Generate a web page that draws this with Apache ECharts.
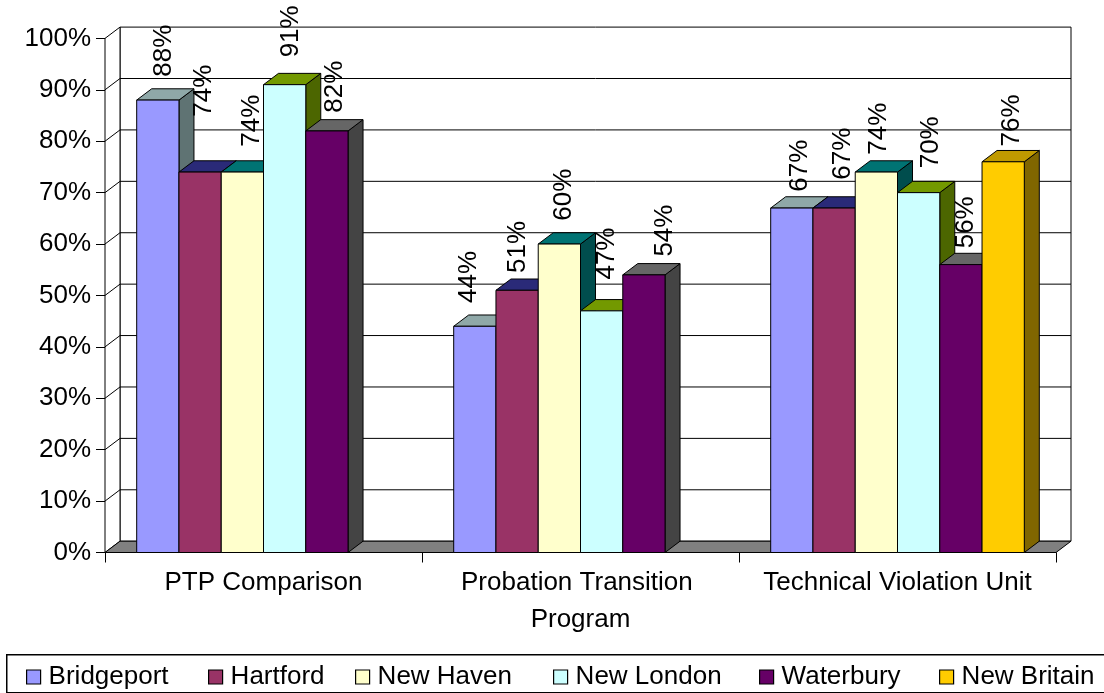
<!DOCTYPE html>
<html>
<head>
<meta charset="utf-8">
<title>Program comparison by office</title>
<script src="https://cdn.jsdelivr.net/npm/echarts@6/dist/echarts.min.js"></script>
<style>
  html, body { margin: 0; padding: 0; background: #fff; }
  #chart { width: 1104px; height: 693px; }
</style>
</head>
<body>
<div id="chart"></div>
<script>
// ---- data ----
const CATEGORIES = ['PTP Comparison', 'Probation Transition Program', 'Technical Violation Unit'];
const CITIES = ['Bridgeport', 'Hartford', 'New Haven', 'New London', 'Waterbury', 'New Britain'];
const BRIDGEPORT = [88, 44, 67];
const HARTFORD = [74, 51, 67];
const NEW_HAVEN = [74, 60, 74];
const NEW_LONDON = [91, 47, 70];
const WATERBURY = [82, 54, 56];
const NEW_BRITAIN = [null, null, 76];
const Y_MIN = 0, Y_MAX = 100, Y_STEP = 10;

const VALUES = [BRIDGEPORT, HARTFORD, NEW_HAVEN, NEW_LONDON, WATERBURY, NEW_BRITAIN];

// ---- styling ----
const FONT = "'Liberation Sans', Arial, sans-serif";
const FRONT = ['#9999FF', '#993366', '#FFFFCC', '#CCFFFF', '#660066', '#FFCC00'];
const TOP   = ['#8FA8A8', '#2A2A78', '#007373', '#739900', '#666666', '#C09A00'];
const SIDE  = ['#5F7373', '#1C1C50', '#004D4D', '#4C6600', '#444444', '#806600'];
const DX = 15, DY = 11.3;           // depth offset of the 3-D box
const GROUP_FILL = 0.8;             // share of a category band used by bars
const LEGEND_LEFT = [26, 208, 355, 553, 759, 939];
// small per-label nudges [dx, dy] so value labels clear their neighbours
const LABEL_NUDGE = [
  [[-2, -2], [-14, -2], [0, 5]],
  [[-4, -34], [-7, 4], [1, -7]],
  [[2, -4], [-3, -2], [-5, 4]],
  [[-1, -6], [-2, -10], [5, -3]],
  [[0, 3], [13, 3], [-3, 5]],
  [[0, 0], [0, 0], [1, 6]]
];
const LINE = { stroke: '#000', lineWidth: 1 };

function slotGeometry(api, cat, v, ci) {
  const bw = api.size([1, 0])[0];
  const groupW = bw * GROUP_FILL;
  const slotW = groupW / CITIES.length;
  const c = api.coord([cat, v]);
  const b = api.coord([cat, 0]);
  const x0 = c[0] - groupW / 2 + ci * slotW;
  return { x0: x0, x1: x0 + slotW, w: slotW, top: c[1], base: b[1] };
}

// back wall, side wall, grid lines and floor
function renderFrame(params, api) {
  const cs = params.coordSys;
  const L = cs.x, R = cs.x + cs.width;
  const yB = api.coord([0, Y_MIN])[1];
  const yT = api.coord([0, Y_MAX])[1];
  const kids = [
    { type: 'rect', shape: { x: L + DX, y: yT - DY, width: R - L, height: yB - yT },
      style: Object.assign({ fill: '#fff' }, LINE) },
    { type: 'polygon', shape: { points: [[L, yB], [L, yT], [L + DX, yT - DY], [L + DX, yB - DY]] },
      style: Object.assign({ fill: '#fff' }, LINE) }
  ];
  for (let v = Y_MIN + Y_STEP; v < Y_MAX; v += Y_STEP) {
    const y = api.coord([0, v])[1];
    kids.push({ type: 'polyline', shape: { points: [[L, y], [L + DX, y - DY], [R + DX, y - DY]] },
      style: Object.assign({ fill: null }, LINE) });
  }
  kids.push({ type: 'polygon', shape: { points: [[L, yB], [R, yB], [R + DX, yB - DY], [L + DX, yB - DY]] },
    style: Object.assign({ fill: '#808080' }, LINE) });
  return { type: 'group', children: kids };
}

function barRenderer(ci) {
  return function (params, api) {
    const g = slotGeometry(api, api.value(0), api.value(1), ci);
    return {
      type: 'group',
      children: [
        { type: 'polygon',
          shape: { points: [[g.x1, g.top], [g.x1 + DX, g.top - DY], [g.x1 + DX, g.base - DY], [g.x1, g.base]] },
          style: Object.assign({ fill: SIDE[ci] }, LINE) },
        { type: 'polygon',
          shape: { points: [[g.x0, g.top], [g.x1, g.top], [g.x1 + DX, g.top - DY], [g.x0 + DX, g.top - DY]] },
          style: Object.assign({ fill: TOP[ci] }, LINE) },
        { type: 'rect',
          shape: { x: g.x0, y: g.top, width: g.w, height: g.base - g.top },
          style: Object.assign({ fill: FRONT[ci] }, LINE) }
      ]
    };
  };
}

function renderLabel(params, api) {
  const cat = api.value(0), v = api.value(1), ci = api.value(2);
  const g = slotGeometry(api, cat, v, ci);
  const n = LABEL_NUDGE[ci][cat];
  return {
    type: 'text',
    x: g.x0 + g.w / 2 + DX / 2 + n[0],
    y: g.top - DY - 10 + n[1],
    rotation: Math.PI / 2,
    style: {
      text: v + '%', x: 0, y: 0,
      align: 'left', verticalAlign: 'middle',
      fontSize: 26, fontFamily: FONT, fill: '#000'
    }
  };
}

const series = [{
  type: 'custom', name: 'frame', z: 1, clip: false, silent: true,
  renderItem: renderFrame, data: [[0, 0]]
}];
const labelData = [];
CITIES.forEach(function (city, ci) {
  const data = [];
  VALUES[ci].forEach(function (v, k) {
    if (v !== null) { data.push([k, v]); labelData.push([k, v, ci]); }
  });
  series.push({
    type: 'custom', name: city, z: 2, clip: false,
    itemStyle: { color: FRONT[ci] },
    renderItem: barRenderer(ci),
    encode: { x: 0, y: 1 },
    data: data
  });
});
series.push({
  type: 'custom', name: 'labels', z: 3, clip: false, silent: true,
  renderItem: renderLabel, encode: { x: 0, y: 1 }, data: labelData
});

const chart = echarts.init(document.getElementById('chart'), null, { renderer: 'canvas' });
chart.setOption({
  animation: false,
  backgroundColor: '#fff',
  textStyle: { fontFamily: FONT },
  grid: { left: 105, right: 48, top: 38.4, bottom: 140.5 },
  xAxis: {
    type: 'category',
    data: CATEGORIES,
    axisLine: { show: true, lineStyle: { color: '#000', width: 1 } },
    axisTick: { show: true, length: 10, interval: 0, lineStyle: { color: '#000', width: 1 } },
    axisLabel: {
      interval: 0, margin: 12, fontSize: 26, lineHeight: 37, color: '#000', fontFamily: FONT,
      width: 300, overflow: 'break'
    },
    splitLine: { show: false }
  },
  yAxis: {
    type: 'value', min: Y_MIN, max: Y_MAX, interval: Y_STEP,
    axisLine: { show: true, lineStyle: { color: '#000', width: 1 } },
    axisTick: { show: true, length: 9, lineStyle: { color: '#000', width: 1 } },
    axisLabel: { margin: 14, fontSize: 26, color: '#000', fontFamily: FONT, formatter: '{value}%' },
    splitLine: { show: false }
  },
  legend: CITIES.map(function (city, i) {
    return {
      data: [city], left: LEGEND_LEFT[i], top: 664, padding: 0,
      icon: 'rect', itemWidth: 14, itemHeight: 14,
      itemStyle: { borderColor: '#000', borderWidth: 1.2 },
      textStyle: { fontSize: 26, fontFamily: FONT, color: '#000', lineHeight: 26, padding: [0, 0, 0, 3] },
      selectedMode: false
    };
  }),
  graphic: [{
    type: 'rect', left: 6, top: 654, z: -1,
    shape: { width: 1120, height: 38 },
    style: { fill: '#fff', stroke: '#000', lineWidth: 1.5 }
  }],
  series: series
});
</script>
</body>
</html>
